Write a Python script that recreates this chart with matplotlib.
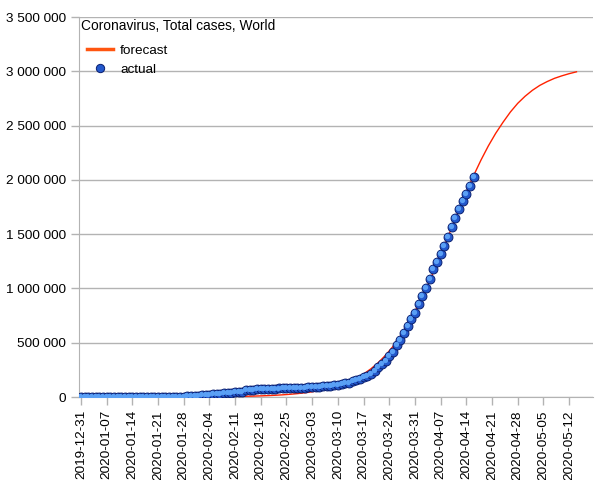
import pandas as pd
import numpy as np
import matplotlib
matplotlib.use('Agg')
import matplotlib.pyplot as plt
from matplotlib.lines import Line2D
from matplotlib.transforms import offset_copy

plt.rcParams['font.family'] = ['Liberation Sans', 'DejaVu Sans']

# category axis: one slot per day
categories = pd.date_range('2019-12-31', '2020-05-18', freq='D')

# actual total cases, 2019-12-31 .. 2020-04-16
actual_dec = [27]
actual_jan = [27, 27, 27, 44, 44, 59, 59, 59, 59, 59, 59, 59, 59, 60, 60, 61, 61, 66, 83,
              219, 282, 314, 581, 846, 1320, 2014, 2798, 4593, 6065, 7818, 9826]
actual_feb = [11953, 14557, 17391, 20630, 24554, 28276, 31481, 34886, 37558, 40554, 43103,
              45171, 46997, 60381, 66891, 69001, 71220, 73238, 75093, 75639, 76198, 76783,
              78498, 78977, 79554, 80352, 81346, 82707, 84051]
actual_mar = [85996, 88371, 90309, 92844, 95124, 97886, 101801, 105847, 109821, 113590,
              118319, 125260, 132567, 145193, 156099, 167511, 181546, 197168, 214915,
              242713, 272167, 304528, 335403, 378287, 417966, 476000, 525000, 589000,
              656000, 718000, 776000]
actual_apr = [853000, 929000, 1000000, 1083000, 1175000, 1245000, 1319000, 1392000,
              1475000, 1567000, 1650000, 1730000, 1807000, 1868000, 1945000, 2027000]
actual = actual_dec + actual_jan + actual_feb + actual_mar + actual_apr

# forecast, read every second day 2020-01-31 .. 2020-05-14
forecast_dates = pd.date_range('2020-01-31', '2020-05-14', freq='2D')
forecast = [1440, 1800, 2240, 2790, 3470, 4330, 5390, 6720, 8370, 10420, 12970, 16150,
            20090, 25000, 31100, 38700, 48000, 59600, 73900, 91500, 113200, 139800,
            172200, 211700, 259300, 316500, 384600, 464800, 558200, 665600, 787100,
            922300, 1069000, 1227000, 1391000, 1558000, 1725000, 1887000, 2041000,
            2183000, 2313000, 2429000, 2531000, 2625000, 2705000, 2770000, 2825000,
            2870000, 2905000, 2935000, 2958000, 2978000, 2995000]

x_actual = categories.get_indexer(categories[:len(actual)])
x_fc = categories.get_indexer(forecast_dates)

fig = plt.figure(figsize=(6.05, 4.8), dpi=100)
ax = fig.add_axes([79/605, 1-397/480, 514/605, 380/480])

grid_c = '#b3b3b3'
ax.set_ylim(0, 3500000)
ax.set_xlim(-0.5, len(categories) - 0.5)
ax.set_yticks(np.arange(0, 3500001, 500000))
ax.set_yticklabels(['{:,}'.format(v).replace(',', ' ') for v in range(0, 3500001, 500000)])
ax.yaxis.grid(True, color=grid_c, lw=1)
ax.set_axisbelow(True)

tick_pos = np.arange(0, len(categories), 7)
ax.set_xticks(tick_pos)
ax.set_xticklabels([categories[i].strftime('%Y-%m-%d') for i in tick_pos], rotation=90)

for s in ['top', 'right']:
    ax.spines[s].set_visible(False)
for s in ['left', 'bottom']:
    ax.spines[s].set_color(grid_c)
ax.tick_params(axis='both', colors=grid_c, labelcolor='black', labelsize=9.7, length=6, width=1)

ax.plot(x_fc, forecast, color='#ff2200', lw=1.0, zorder=3)

# sphere-like markers: dark base with a lighter offset highlight
ax.plot(x_actual, actual, ls='none', marker='o', ms=6.4, mfc='#2358cc', mec='#0a1f70', mew=0.7, zorder=4)
hl = offset_copy(ax.transData, fig=fig, x=-0.7, y=0.7, units='points')
ax.plot(x_actual, actual, ls='none', marker='o', ms=3.8, mfc='#5aa0f5', mec='none', transform=hl, zorder=5)

ax.text(0.004, 0.976, 'Coronavirus, Total cases, World', transform=ax.transAxes,
        fontsize=9.9, va='center', ha='left')

handles = [Line2D([], [], color='#ff5510', lw=2.5),
           Line2D([], [], ls='none', marker='o', ms=6, mfc='#2358cc', mec='#0a1f70', mew=0.7)]
ax.legend(handles, ['forecast', 'actual'], loc='upper left', bbox_to_anchor=(0.0, 0.95),
          frameon=False, fontsize=9.7, handlelength=1.9, handletextpad=0.55, labelspacing=0.5,
          borderaxespad=0.2)

fig.savefig('out.png', dpi=100)
